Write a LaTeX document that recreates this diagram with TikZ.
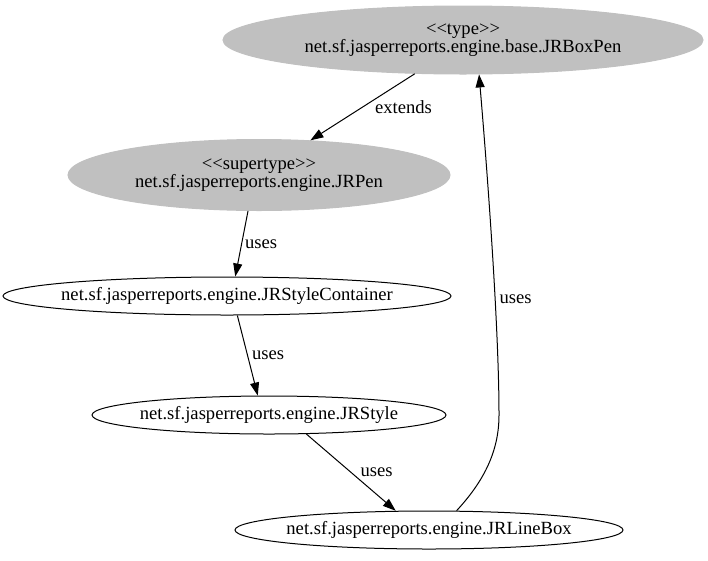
\documentclass[tikz,border=0pt]{standalone}
\usepackage{fontspec}
\setmainfont{Liberation Serif}
\usepackage{tikz}
\usetikzlibrary{arrows.meta}
\usetikzlibrary{shapes.geometric}
\definecolor{nodegray}{HTML}{C0C0C0}
% text that does not widen its ellipse
\newcommand{\ctext}[1]{\makebox[0pt]{#1}}

\begin{document}
\begin{tikzpicture}[
		x=1pt, y=-1pt,
		font=\fontsize{18.6}{18.5}\selectfont,
		klass/.style={ellipse, draw=black, line width=1pt, inner sep=0pt, align=center},
		stereo/.style={klass, draw=nodegray, fill=nodegray},
		link/.style={draw=black, line width=1pt, -{Triangle[length=13pt, width=9pt]}},
		lbl/.style={inner sep=1pt}
	]
	\useasboundingbox (0,0) rectangle (708,560);
	% classes
	\node[stereo, minimum width=480pt, minimum height=68pt] (boxpen)
		at (463,40)
			{\ctext{<\kern0pt<type>\kern0pt>}\\\ctext{net.sf.jasperreports.engine.base.JRBoxPen}};
	\node[stereo, minimum width=382pt, minimum height=71pt] (pen)
		at (259,175)
			{\ctext{<\kern0pt<supertype>\kern0pt>}\\\ctext{net.sf.jasperreports.engine.JRPen}};
	\node[klass, minimum width=448pt, minimum height=38pt] (container)
		at (227,296)
			{\ctext{net.sf.jasperreports.engine.JRStyleContainer}};
	\node[klass, minimum width=354pt, minimum height=38pt] (style)
		at (269,415)
			{\ctext{net.sf.jasperreports.engine.JRStyle}};
	\node[klass, minimum width=388pt, minimum height=38pt] (linebox)
		at (429,530)
			{\ctext{net.sf.jasperreports.engine.JRLineBox}};

	% relations
	\draw[link]
		(boxpen.215) -- (pen.34)
			node[lbl, midway, right=11pt] {extends};
	\draw[link]
		(pen.253) -- (container.67)
			node[lbl, midway, right=2pt] {uses};
	\draw[link]
		(container.-62) -- (style.120)
			node[lbl, midway, right=3pt] {uses};
	\draw[link]
		(style.-27) -- (linebox.150)
			node[lbl, midway, right=8pt] {uses};
	\draw[link]
		(linebox.35) .. controls (485,480) and (499,450) .. (499,415)
		.. controls (499,330) and (488,180) .. (boxpen.-65)
			node[lbl, pos=0.37, right=3pt] {uses};
\end{tikzpicture}
\end{document}
